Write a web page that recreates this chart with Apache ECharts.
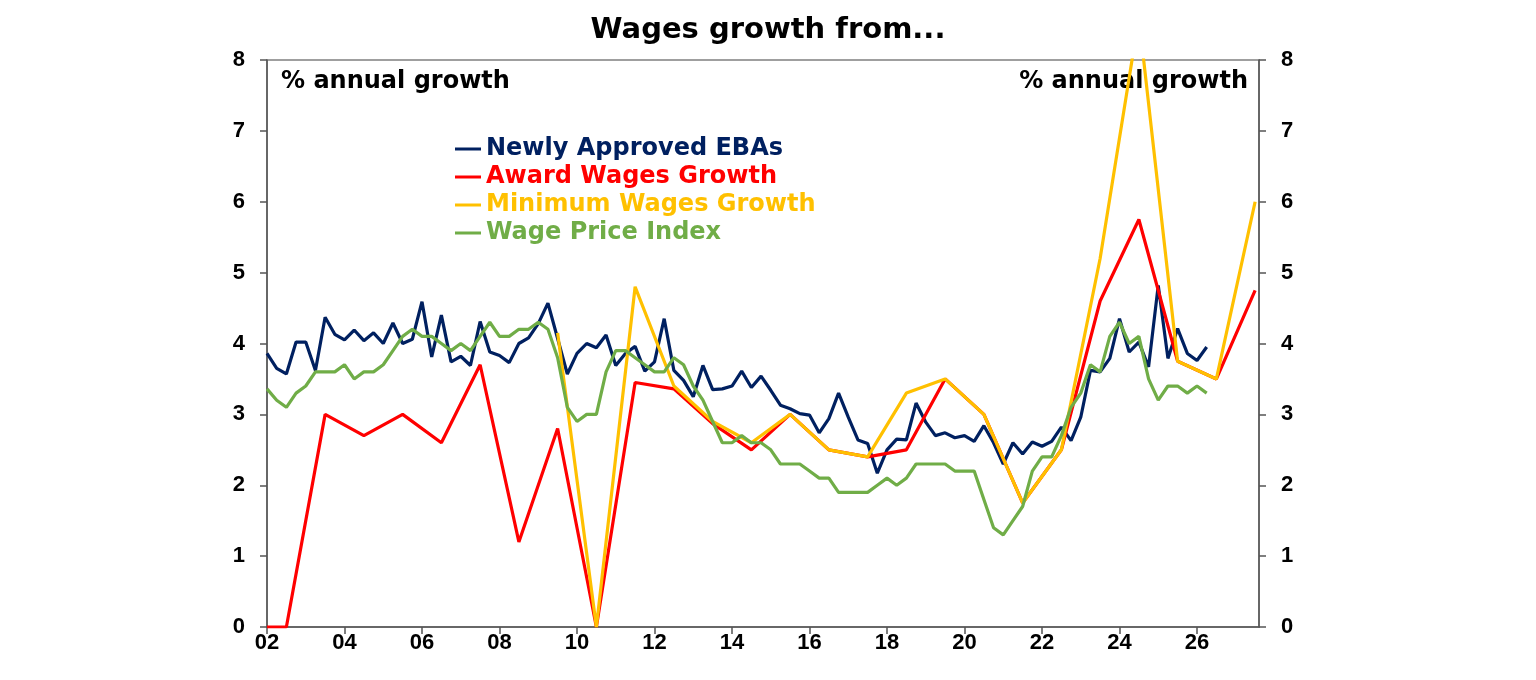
<!DOCTYPE html>
<html>
<head>
<meta charset="utf-8">
<script src="https://cdn.jsdelivr.net/npm/echarts@6/dist/echarts.min.js"></script>
<style>
html,body{margin:0;padding:0;background:#fff;}
#chart{width:1536px;height:680px;}
</style>
</head>
<body>
<div id="chart"></div>
<script>
// ---- Data ----
const title = 'Wages growth from...';
const axisNote = '% annual growth';
const seriesNames = ['Newly Approved EBAs', 'Award Wages Growth', 'Minimum Wages Growth', 'Wage Price Index'];
const xTickYears = [2002, 2004, 2006, 2008, 2010, 2012, 2014, 2016, 2018, 2020, 2022, 2024, 2026];
const yTicks = [0, 1, 2, 3, 4, 5, 6, 7, 8];

// quarterly series start at 2002 Q1 (x = 2002.00, step one quarter)
const quarterlyStart = 2002;
const ebaValues = [
  3.86, 3.65, 3.57, 4.02,  4.02, 3.62, 4.37, 4.13,  4.05, 4.19, 4.04, 4.15,
  4.00, 4.29, 4.00, 4.06,  4.59, 3.81, 4.40, 3.74,  3.82, 3.69, 4.31, 3.88,
  3.83, 3.73, 4.00, 4.08,  4.28, 4.57, 4.07, 3.57,  3.86, 4.00, 3.94, 4.12,
  3.69, 3.86, 3.96, 3.61,  3.74, 4.35, 3.62, 3.48,  3.25, 3.69, 3.35, 3.36,
  3.40, 3.61, 3.38, 3.54,  3.34, 3.13, 3.08, 3.01,  2.99, 2.74, 2.94, 3.30,
  2.96, 2.64, 2.59, 2.17,  2.50, 2.65, 2.64, 3.16,  2.89, 2.70, 2.74, 2.67,
  2.70, 2.62, 2.84, 2.60,  2.30, 2.60, 2.44, 2.61,  2.55, 2.62, 2.82, 2.63,
  2.96, 3.62, 3.60, 3.79,  4.35, 3.88, 4.02, 3.67,  4.82, 3.79, 4.21, 3.86,
  3.76, 3.95
];
const wpiValues = [
  3.36, 3.2, 3.1, 3.3,  3.4, 3.6, 3.6, 3.6,  3.7, 3.5, 3.6, 3.6,
  3.7, 3.9, 4.1, 4.2,  4.1, 4.1, 4.0, 3.9,  4.0, 3.9, 4.1, 4.3,
  4.1, 4.1, 4.2, 4.2,  4.3, 4.2, 3.8, 3.1,  2.9, 3.0, 3.0, 3.6,
  3.9, 3.9, 3.8, 3.7,  3.6, 3.6, 3.8, 3.7,  3.4, 3.2, 2.9, 2.6,
  2.6, 2.7, 2.6, 2.6,  2.5, 2.3, 2.3, 2.3,  2.2, 2.1, 2.1, 1.9,
  1.9, 1.9, 1.9, 2.0,  2.1, 2.0, 2.1, 2.3,  2.3, 2.3, 2.3, 2.2,
  2.2, 2.2, 1.8, 1.4,  1.3, 1.5, 1.7, 2.2,  2.4, 2.4, 2.7, 3.1,
  3.3, 3.7, 3.6, 4.1,  4.3, 4.0, 4.1, 3.5,  3.2, 3.4, 3.4, 3.3,
  3.4, 3.3
];

// annual series (mid-year points)
const awardYears = [2002.0, 2002.5, 2003.5, 2004.5, 2005.5, 2006.5, 2007.5, 2008.5, 2009.5, 2010.5, 2011.5, 2012.5, 2013.5, 2014.5, 2015.5, 2016.5, 2017.5, 2018.5, 2019.5, 2020.5, 2021.5, 2022.5, 2023.5, 2024.5, 2025.5, 2026.5, 2027.5];
const awardValues = [0, 0, 3.0, 2.7, 3.0, 2.6, 3.7, 1.2, 2.8, 0, 3.45, 3.36, 2.87, 2.5, 3.0, 2.5, 2.4, 2.5, 3.5, 3.0, 1.75, 2.5, 4.6, 5.75, 3.75, 3.5, 4.75];
const minWageYears = [2009.5, 2010.5, 2011.5, 2012.5, 2013.5, 2014.5, 2015.5, 2016.5, 2017.5, 2018.5, 2019.5, 2020.5, 2021.5, 2022.5, 2023.5, 2024.5, 2025.5, 2026.5, 2027.5];
const minWageValues = [4.15, 0, 4.8, 3.4, 2.9, 2.6, 3.0, 2.5, 2.4, 3.3, 3.5, 3.0, 1.75, 2.5, 5.2, 8.6, 3.75, 3.5, 6.0];

const colors = ['#002060', '#FF0000', '#FFC000', '#70AD47'];
const FONT = 'DejaVu Sans';
const TICK_FONT = 'Liberation Sans';

// ---- Build ----
const quarterly = vals => vals.map((v, i) => [quarterlyStart + i * 0.25, v]);
const pairs = (xs, ys) => xs.map((x, i) => [x, ys[i]]);

const chart = echarts.init(document.getElementById('chart'), null, {renderer: 'canvas'});

const yAxisBase = (pos, margin) => ({
  type: 'value', position: pos, min: 0, max: 8, interval: 1,
  axisLine: {show: true, lineStyle: {color: '#555', width: 1.5}},
  axisTick: {show: true, inside: false, length: 7, lineStyle: {color: '#555', width: 1.5}},
  splitLine: {show: false},
  axisLabel: {fontFamily: TICK_FONT, fontWeight: 'bold', fontSize: 22, color: '#000', margin: margin,
    formatter: v => yTicks.includes(v) ? String(v) : ''}
});

const lineSeries = (name, data, color) => ({
  name, type: 'line', data, showSymbol: false, symbol: 'none', clip: true,
  lineStyle: {color, width: 3.2}, itemStyle: {color}, animation: false
});

chart.setOption({
  backgroundColor: '#fff',
  animation: false,
  title: {
    text: title, left: 'center', top: 11,
    textStyle: {fontFamily: FONT, fontWeight: 'bold', fontSize: 29, color: '#000'}
  },
  grid: {left: 267, right: 277, top: 60, bottom: 53, show: true, borderColor: '#808080', borderWidth: 1.5},
  legend: {
    orient: 'vertical', left: 450, top: 130, itemGap: 0,
    icon: 'rect', itemWidth: 26, itemHeight: 3,
    selectedMode: false,
    textStyle: {fontFamily: FONT, fontWeight: 'bold', fontSize: 24, lineHeight: 28},
    data: seriesNames.map((n, i) => ({name: n, textStyle: {color: colors[i]}}))
  },
  xAxis: {
    type: 'value', min: 2002, max: 2027.6, interval: 2,
    axisLine: {show: true, lineStyle: {color: '#555', width: 1.5}},
    axisTick: {show: true, length: 7, lineStyle: {color: '#555', width: 1.5}},
    splitLine: {show: false},
    axisLabel: {fontFamily: TICK_FONT, fontWeight: 'bold', fontSize: 22, color: '#000', margin: 5,
      showMaxLabel: false,
      formatter: v => xTickYears.includes(v) ? String(v).slice(2) : ''}
  },
  yAxis: [yAxisBase('left', 22), yAxisBase('right', 22)],
  graphic: [
    {type: 'text', left: 281, top: 70, style: {text: axisNote, fontFamily: FONT, fontWeight: 'bold', fontSize: 24, fill: '#000'}},
    {type: 'text', right: 288, top: 70, style: {text: axisNote, fontFamily: FONT, fontWeight: 'bold', fontSize: 24, fill: '#000'}}
  ],
  series: [
    lineSeries(seriesNames[0], quarterly(ebaValues), colors[0]),
    lineSeries(seriesNames[1], pairs(awardYears, awardValues), colors[1]),
    lineSeries(seriesNames[2], pairs(minWageYears, minWageValues), colors[2]),
    lineSeries(seriesNames[3], quarterly(wpiValues), colors[3])
  ]
});
</script>
</body>
</html>
